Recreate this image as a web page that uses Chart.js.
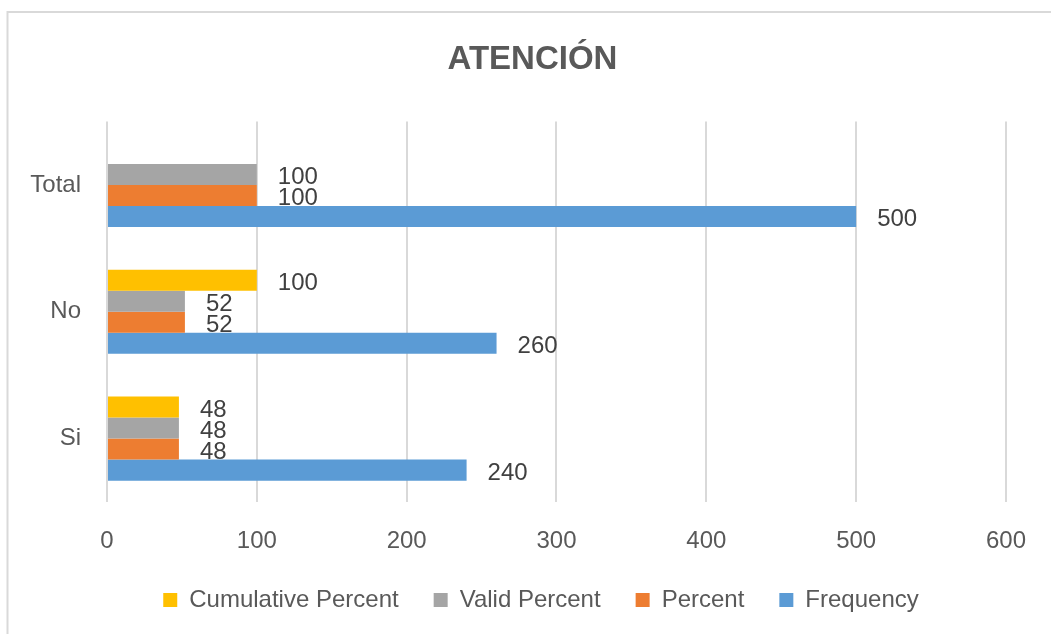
<!DOCTYPE html>
<html>
<head>
<meta charset="utf-8">
<title>ATENCIÓN</title>
<script src="https://cdn.jsdelivr.net/npm/chart.js@4.4.1/dist/chart.umd.min.js"></script>
<style>
  body { margin: 0; background: #fff; }
  #wrap { width: 1051px; height: 634px; }
</style>
</head>
<body>
<div id="wrap"><canvas id="bar-chart"></canvas></div>
<script>
// categories, bottom to top as in the original
var categories = ["Si", "No", "Total"];

// series values per category
var frequency = [240, 260, 500];
var percent = [48, 52, 100];
var validPercent = [48, 52, 100];
var cumulativePercent = [48, 100, null];

// value axis ticks
var xTicks = [0, 100, 200, 300, 400, 500, 600];

var FONT = "'Liberation Sans', Arial, sans-serif";

// grey frame round the chart, and shift title / legend like excel does
var framePlugin = {
    id: "frame",
    afterLayout: function (chart) {
        chart.titleBlock.left = 14;
        chart.titleBlock.right = chart.width;
        chart.legend.left = 76;
        chart.legend.right = chart.chartArea.right;
    },
    beforeDraw: function (chart) {
        var ctx = chart.ctx;
        ctx.save();
        ctx.strokeStyle = "#d9d9d9";
        ctx.lineWidth = 2;
        ctx.beginPath();
        ctx.moveTo(7.5, chart.height);
        ctx.lineTo(7.5, 12);
        ctx.lineTo(chart.width, 12);
        ctx.stroke();
        ctx.restore();
    },
};

// value labels right of each bar
var valueLabels = {
    id: "valueLabels",
    afterDatasetsDraw: function (chart) {
        var ctx = chart.ctx;
        ctx.save();
        ctx.font = "24px " + FONT;
        ctx.fillStyle = "#404040";
        ctx.textAlign = "left";
        ctx.textBaseline = "middle";
        chart.data.datasets.forEach(function (ds, i) {
            var meta = chart.getDatasetMeta(i);
            meta.data.forEach(function (bar, j) {
                var v = ds.data[j];
                if (v === null || v === undefined) return;
                ctx.fillText(String(v), bar.x + 21, bar.y + 3);
            });
        });
        ctx.restore();
    },
};

var data = {
    labels: categories,
    datasets: [
        { label: "Cumulative Percent", data: cumulativePercent, backgroundColor: "#ffc000", borderWidth: 0 },
        { label: "Valid Percent", data: validPercent, backgroundColor: "#a5a5a5", borderWidth: 0 },
        { label: "Percent", data: percent, backgroundColor: "#ed7d31", borderWidth: 0 },
        { label: "Frequency", data: frequency, backgroundColor: "#5b9bd5", borderWidth: 0 },
    ],
};

var options = {
    indexAxis: "y",
    responsive: true,
    maintainAspectRatio: false,
    animation: false,
    categoryPercentage: 0.663,
    barPercentage: 1.0,
    layout: { padding: { left: 0, right: 44, top: 0, bottom: 12 } },
    scales: {
        x: {
            min: xTicks[0],
            max: xTicks[xTicks.length - 1],
            afterBuildTicks: function (scale) {
                scale.ticks = xTicks.map(function (v) { return { value: v }; });
            },
            afterFit: function (scale) { scale.height = 51; },
            grid: { color: "#d9d9d9", lineWidth: 2, drawTicks: false },
            border: { display: false },
            ticks: {
                color: "#595959",
                font: { family: FONT, size: 24 },
                padding: 25,
            },
        },
        y: {
            reverse: true,
            afterFit: function (scale) { scale.width = 107; },
            grid: { display: false, drawTicks: false },
            border: { display: false },
            ticks: {
                color: "#595959",
                font: { family: FONT, size: 24 },
                padding: 26,
            },
        },
    },
    plugins: {
        title: {
            display: true,
            text: "ATENCIÓN",
            color: "#595959",
            font: { family: FONT, size: 33, weight: "bold" },
            padding: { top: 40, bottom: 42 },
        },
        legend: {
            display: true,
            position: "bottom",
            labels: {
                color: "#595959",
                font: { family: FONT, size: 24 },
                boxWidth: 14,
                boxHeight: 14,
                padding: 35,
            },
        },
        tooltip: { enabled: false },
    },
};

var ctx = document.getElementById("bar-chart");
new Chart(ctx, {
    type: "bar",
    data: data,
    options: options,
    plugins: [framePlugin, valueLabels],
});
</script>
</body>
</html>
